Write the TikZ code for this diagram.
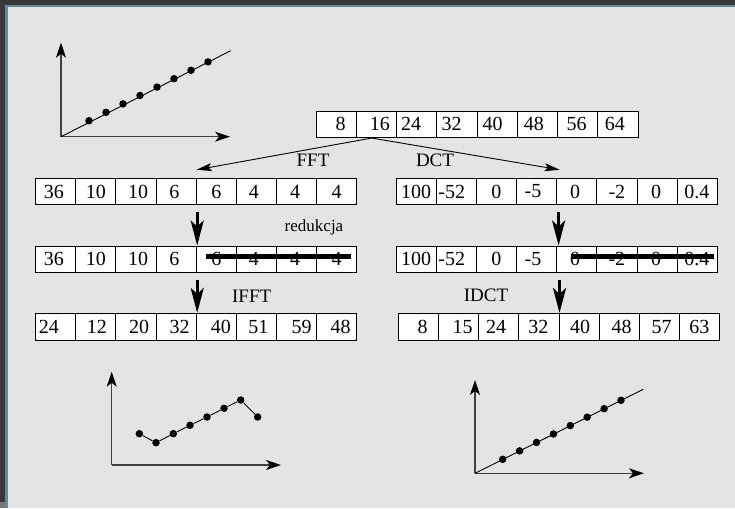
\documentclass[tikz,border=0pt]{standalone}
\usepackage{fontspec}
\setmainfont{Liberation Serif}
\usetikzlibrary{arrows.meta,calc}
\definecolor{bgc}{HTML}{E3E4E6}
\definecolor{framec}{HTML}{383838}
\definecolor{edgec}{HTML}{6A8796}
\newcommand{\celltxt}[2]{\makebox[0pt][c]{\hspace*{#1pt}\hspace*{#1pt}#2}}
\begin{document}
\begin{tikzpicture}[x=1pt,y=-1pt,
  cell/.style={draw=black, fill=white, line width=0.9, minimum width=40.2, minimum height=26.6, inner sep=0, font=\fontsize{20}{24}\selectfont},
  lbl/.style={anchor=base, inner sep=0, font=\fontsize{19}{22}\selectfont},
  smalllbl/.style={anchor=base, inner sep=0, font=\fontsize{17}{20}\selectfont},
  thin arrow/.style={line width=0.9, -{Stealth[length=15, width=8, inset=3]}},
  thick arrow/.style={line width=3, -{Stealth[length=25, width=13, inset=6]}},
  strike/.style={line width=4.5},
  axis/.style={line width=1.2, draw=black!75, -{Stealth[length=15, width=10, inset=4, black]}},
  dataline/.style={line width=0.9, black},
  dot/.style={circle, fill=black, inner sep=0, minimum size=7.5}
]
\useasboundingbox (0,0) rectangle (735,508);
% background and frame
\fill[bgc] (0,0) rectangle (735,508);
\fill[edgec] (0,0) rectangle (735,7.5);
\fill[edgec] (0,0) rectangle (8,508);
\fill[framec] (0,0) rectangle (735,5.5);
\fill[framec] (0,0) rectangle (5,502);
\fill[black!55] (0,502) rectangle (5,508);

% top row (input)
\foreach \t/\o [count=\i] in {8/4.6,16/3.6,24/-5.6,32/-5.2,40/-4.4,48/-3.4,56/-0.9,64/-2.9}
  \node[cell] (t\i) at ({316+40.25*(\i-0.5)},124.3) {\celltxt{\o}{\t}};

% FFT row
\foreach \t/\o [count=\i] in {36/-2,10/0,10/2,6/-1.7,6/0,4/-2.5,4/-1.5,4/0}
  \node[cell] (a\i) at ({35.7+40.125*(\i-0.5)},191.5) {\celltxt{\o}{\t}};
% reduced FFT row
\foreach \t/\o [count=\i] in {36/-2,10/0,10/2,6/-1.7,6/0,4/-2.5,4/-1.5,4/0}
  \node[cell] (b\i) at ({35.7+40.125*(\i-0.5)},259.3) {\celltxt{\o}{\t}};
% IFFT row
\foreach \t/\o [count=\i] in {24/-7,12/1,20/3,32/3.5,40/4.5,51/2,59/5,48/4}
  \node[cell] (c\i) at ({35.7+40.125*(\i-0.5)},326.7) {\celltxt{\o}{\t}};

% DCT row
\foreach \t/\o [count=\i] in {100/0,-52/-4.5,0/0,-5/-3.5,0/-1.7,-2/0,0/-1,0.4/-0.4}
  \node[cell] (d\i) at ({396+40.16*(\i-0.5)},191.5) {\celltxt{\o}{\t}};
% reduced DCT row
\foreach \t/\o [count=\i] in {100/0,-52/-4.5,0/0,-5/-3.5,0/-1.7,-2/0,0/-1,0.4/-0.4}
  \node[cell] (e\i) at ({396+40.16*(\i-0.5)},259.3) {\celltxt{\o}{\t}};
% IDCT row
\foreach \t/\o [count=\i] in {8/4.3,15/4,24/-2.8,32/-0.7,40/0.8,48/2.3,57/2,63/-0.4}
  \node[cell] (f\i) at ({398.3+40.2*(\i-0.5)},326.7) {\celltxt{\o}{\t}};

% labels
\node[lbl] (lfft) at (313,166.7) {FFT};
\node[lbl] (ldct) at (435,166.7) {DCT};
\node[smalllbl] (lred) at (314,231) {redukcja};
\node[lbl] (lifft) at (251.7,302) {IFFT};
\node[lbl] (lidct) at (486,301.7) {IDCT};

% slanted arrows
\coordinate (src) at ($(t2.south)+(-4.7,0)$);
\coordinate (fftend) at ($(a4.north east)+(0,-8)$);
\coordinate (dctend) at ($(d5.north west)+(3.4,-8)$);
\draw[thin arrow] (src) -- (fftend);
\draw[thin arrow] (src) -- (dctend);

% thick down arrows
\coordinate (la1) at ($(a4.south east)+(0.5,6.7)$);
\coordinate (la2) at ($(b4.south east)+(0.5,6.7)$);
\coordinate (ra1) at ($(d4.south east)+(1.5,6.7)$);
\coordinate (ra2) at ($(e4.south east)+(2.4,6.7)$);
\draw[thick arrow] (la1) -- (la1 |- b5.north);
\draw[thick arrow] (la2) -- (la2 |- c5.north);
\draw[thick arrow] (ra1) -- (ra1 |- e5.north);
\draw[thick arrow] (ra2) -- (ra2 |- f5.north);

% strike-through lines
\draw[strike] ($(b5.west)+(10.5,-2.6)$) -- ($(b8.east)+(-6,-2.6)$);
\draw[strike] ($(e5.west)+(14.4,-2.6)$) -- ($(e8.east)+(-4,-2.6)$);

% graph 1 (top left)
\coordinate (o1) at (61,136.7);
\draw[axis] (o1) -- (61,42.7);
\draw[axis] (o1) -- (230,136.7);
\draw[dataline] (o1) -- (230.7,50.7);
\foreach \i in {0,...,7}
  \node[dot] (g1p\i) at ({89+17*\i},{120.7-8.4*\i}) {};

% graph 2 (bottom left)
\coordinate (o2) at (111.7,465);
\draw[axis] (o2) -- (111.7,371.7);
\draw[axis] (o2) -- (281,465);
\foreach \x/\y [count=\i] in {139.3/433.7,156/442.7,173.3/433.7,190/425.3,207/417,224/408.3,240.7/400,257.7/417}
  \node[dot] (g2p\i) at (\x,\y) {};
\draw[dataline] (g2p1) -- (g2p2) -- (g2p3) -- (g2p4) -- (g2p5) -- (g2p6) -- (g2p7) -- (g2p8);

% graph 3 (bottom right)
\coordinate (o3) at (475,473.3);
\draw[axis] (o3) -- (475,380);
\draw[axis] (o3) -- (644,473.3);
\draw[dataline] (o3) -- (643.3,389.3);
\foreach \i in {0,...,7}
  \node[dot] (g3p\i) at ({502.7+16.9*\i},{459.3-8.43*\i}) {};
\end{tikzpicture}
\end{document}
